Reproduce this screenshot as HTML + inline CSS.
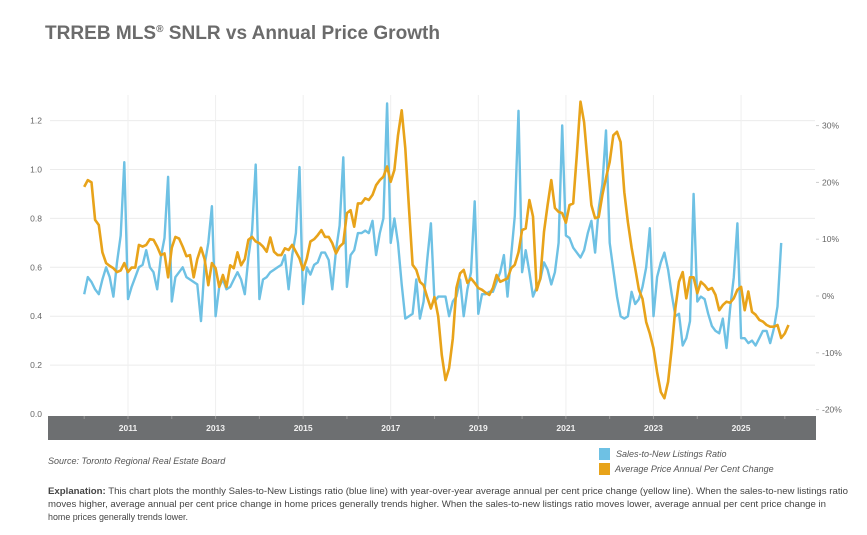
<!DOCTYPE html>
<html><head><meta charset="utf-8"><style>
html,body{margin:0;padding:0;background:#fff;}
svg{display:block;font-family:"Liberation Sans",sans-serif;}
</style></head><body>
<svg id="chart" width="867" height="535" viewBox="0 0 867 535">
  <text x="45" y="39" font-size="19" font-weight="bold" fill="#6b6b6b" textLength="395" lengthAdjust="spacingAndGlyphs">TRREB MLS<tspan font-size="10" dy="-7">®</tspan><tspan dy="7"> SNLR vs Annual Price Growth</tspan></text>
  <g id="grid"></g>
  <rect x="48" y="416" width="768" height="24" fill="#6d6f71"/>
  <g id="axes"></g>
  <g id="series"></g>
  <text x="48" y="464" font-size="9" font-style="italic" fill="#555">Source: Toronto Regional Real Estate Board</text>
  <g>
    <g>
      <rect x="599" y="448" width="11" height="12" fill="#6ec1e4"/>
      <text x="616" y="457" font-size="9" font-style="italic" fill="#555">Sales-to-New Listings Ratio</text>
    </g>
    <g>
      <rect x="599" y="463" width="11" height="12" fill="#e8a31a"/>
      <text x="615" y="472" font-size="9" font-style="italic" fill="#555">Average Price Annual Per Cent Change</text>
    </g>
  </g>
  <g font-size="9.5" fill="#444">
    <text x="48" y="494" textLength="800" lengthAdjust="spacingAndGlyphs"><tspan font-weight="bold">Explanation:</tspan> This chart plots the monthly Sales-to-New Listings ratio (blue line) with year-over-year average annual per cent price change (yellow line). When the sales-to-new listings ratio</text>
    <text x="48" y="507" textLength="778" lengthAdjust="spacingAndGlyphs">moves higher, average annual per cent price change in home prices generally trends higher. When the sales-to-new listings ratio moves lower, average annual per cent price change in</text>
    <text x="48" y="520" textLength="140" lengthAdjust="spacingAndGlyphs">home prices generally trends lower.</text>
  </g>
</svg>
<script>
const snlrValues = [
.49,.56,.54,.51,.49,.55,.60,.56,.48,.62,.73,1.03,
.47,.52,.56,.60,.61,.67,.60,.58,.51,.64,.72,.97,
.46,.56,.58,.60,.56,.55,.54,.53,.38,.61,.70,.85,
.40,.52,.55,.51,.52,.55,.58,.55,.49,.64,.75,1.02,
.47,.55,.56,.58,.59,.60,.61,.65,.51,.65,.74,1.01,
.45,.60,.57,.61,.62,.66,.66,.63,.51,.67,.77,1.05,
.52,.65,.67,.74,.74,.75,.74,.79,.65,.74,.80,1.27,
.70,.80,.70,.53,.39,.40,.41,.55,.39,.46,.63,.78,
.46,.48,.48,.48,.40,.46,.48,.55,.40,.51,.58,.87,
.41,.49,.49,.50,.50,.54,.58,.65,.48,.65,.81,1.24,
.58,.67,.58,.48,.52,.55,.62,.59,.53,.58,.70,1.18,
.73,.72,.68,.66,.64,.67,.74,.79,.66,.84,.94,1.16,
.70,.59,.48,.40,.39,.40,.50,.45,.47,.52,.60,.76,
.40,.56,.62,.66,.59,.49,.40,.41,.28,.31,.38,.90,
.46,.48,.47,.41,.36,.34,.33,.39,.27,.43,.56,.78,
.31,.31,.29,.30,.28,.31,.34,.34,.29,.35,.44,.70];
const priceValues = [
19.2,20.4,20.0,13.4,12.5,7.7,5.8,5.3,4.9,4.2,4.5,5.8,
4.2,5.0,5.0,9.0,8.7,9.0,10.0,9.9,8.7,7.2,7.5,3.3,
8.5,10.4,10.1,8.7,7.0,7.2,3.3,6.5,8.5,6.5,1.9,5.8,
4.9,1.6,3.7,1.6,5.4,4.9,7.7,5.4,6.5,9.9,10.4,9.6,
9.3,8.7,7.8,10.3,7.8,7.2,7.2,8.4,8.1,9.0,7.8,6.6,
4.6,6.6,9.6,10.0,10.7,11.6,10.4,10.4,9.3,7.5,8.7,9.3,
14.6,15.1,12.2,16.3,16.3,17.2,16.9,17.8,19.5,20.4,21.0,22.8,
20.1,22.2,28.3,32.7,26.0,15.4,5.5,4.6,2.5,1.9,-0.2,-2.2,
-0.2,-3.6,-10.4,-14.8,-12.7,-7.5,1.4,4.0,4.6,2.3,3.1,2.3,
1.4,1.1,0.6,0.2,1.4,3.7,2.5,2.8,3.1,4.9,5.5,7.7,
11.6,11.9,16.9,14.0,1.0,3.1,11.3,16.0,20.4,15.5,14.8,14.6,
12.9,16.0,16.3,24.8,34.2,30.6,23.1,16.0,13.7,13.9,17.8,20.8,
23.6,28.3,28.9,27.1,18.3,13.0,8.5,4.9,1.1,-0.5,-4.6,-6.6,
-9.2,-13.4,-16.9,-18.0,-15.1,-9.2,-2.1,2.5,4.2,-0.4,3.3,3.3,
0.5,2.5,1.9,1.1,1.4,0.2,-2.5,-1.6,-1.0,-1.2,-0.4,1.1,
1.6,-2.5,0.8,-2.8,-3.3,-4.2,-4.5,-5.1,-5.4,-5.4,-5.1,-7.4,
-6.6,-5.1];
const startYear = 2010;
const leftTicks = [0, 0.2, 0.4, 0.6, 0.8, 1.0, 1.2];
const leftTickLabels = ["0.0","0.2","0.4","0.6","0.8","1.0","1.2"];
const rightTicks = [-20, -10, 0, 10, 20, 30];
const rightTickLabels = ["-20%","-10%","0%","10%","20%","30%"];
const yearLabels = [2011, 2013, 2015, 2017, 2019, 2021, 2023, 2025];

const NS = "http://www.w3.org/2000/svg";
function xScale(monthIndex){ return 84.2 + 43.79 * (monthIndex / 12); }
function xYear(year){ return xScale((year - startYear) * 12); }
function yLeft(v){ return 414 - 244.5 * v; }
function yRight(p){ return 296 - 5.68 * p; }
function mk(tag, attrs, parent){
  const el = document.createElementNS(NS, tag);
  for (const k in attrs) el.setAttribute(k, attrs[k]);
  parent.appendChild(el);
  return el;
}
const grid = document.getElementById('grid');
const axes = document.getElementById('axes');
const series = document.getElementById('series');

leftTicks.forEach((v, i) => {
  if (v > 0) {
    const gl = mk('line', {x1: 50, x2: 815, y1: yLeft(v), y2: yLeft(v), stroke: '#ececec', 'stroke-width': 1}, grid);
    
    
  }
  const t = mk('text', {x: 42, y: yLeft(v) + 3, 'font-size': 8.5, fill: '#666', 'text-anchor': 'end'}, axes);
  t.textContent = leftTickLabels[i];
  
  
});
rightTicks.forEach((p, i) => {
  const t = mk('text', {x: 822, y: yRight(p) + 3, 'font-size': 8.5, fill: '#666'}, axes);
  t.textContent = rightTickLabels[i];
  
  
  const tk = mk('line', {x1: 816, x2: 819, y1: yRight(p), y2: yRight(p), stroke: '#ccc'}, axes);
  
  
});
yearLabels.forEach(yr => {
  const x = xYear(yr);
  const gl = mk('line', {x1: x, x2: x, y1: 95, y2: 416, stroke: '#efefef', 'stroke-width': 1}, grid);
  
  
  const t = mk('text', {x: x, y: 431, 'font-size': 8.5, 'font-weight': 'bold', fill: '#f2f2f2', 'text-anchor': 'middle'}, axes);
  t.textContent = String(yr);
  
  
});
for (let yr = startYear; yr <= 2026; yr++) {
  const x = xYear(yr);
  const tk = mk('line', {x1: x, x2: x, y1: 416, y2: 419, stroke: '#999'}, axes);
  
  
}
function linePath(vals, yfn){
  return vals.map((v, i) => (i ? 'L' : 'M') + xScale(i).toFixed(1) + ' ' + yfn(v).toFixed(1)).join(' ');
}
const blue = mk('path', {d: linePath(snlrValues, yLeft), fill: 'none', stroke: '#6ec1e4', 'stroke-width': 2.4, 'stroke-linejoin': 'round'}, series);


const orange = mk('path', {d: linePath(priceValues, yRight), fill: 'none', stroke: '#e8a31a', 'stroke-width': 2.6, 'stroke-linejoin': 'round'}, series);


</script>
</body></html>
